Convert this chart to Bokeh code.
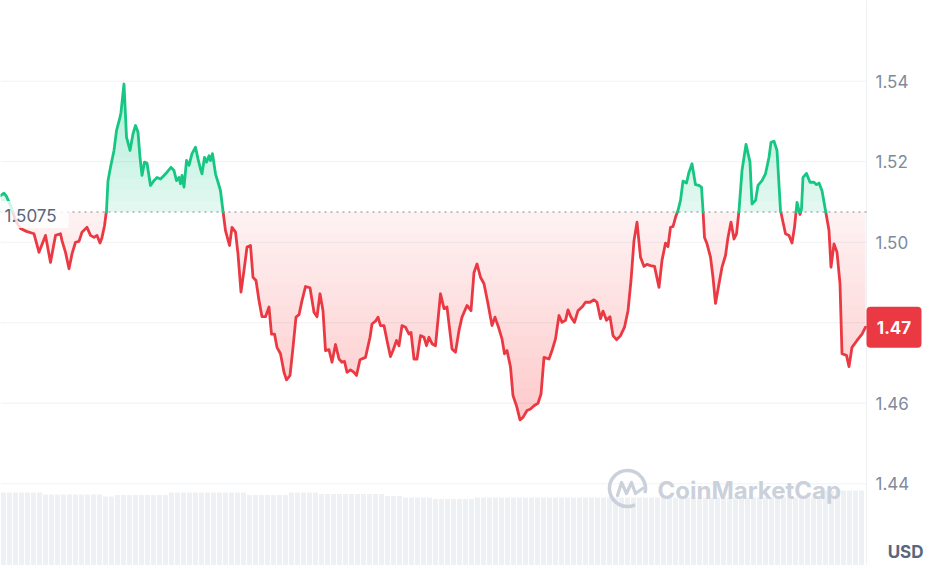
import numpy as np
from bokeh.plotting import figure
from bokeh.models import Range1d
from bokeh.core.properties import value
from bokeh.embed import file_html
from bokeh.resources import INLINE

# ---------------- data ----------------
minutes = [
    0, 7, 12, 20, 30, 40, 52, 67, 77, 90,
    100, 110, 120, 123, 130, 137, 143, 150, 157, 163,
    173, 180, 187, 193, 199, 203, 208, 212, 215, 220,
    227, 232, 239, 241, 247, 252, 259, 265, 270, 275,
    279, 283, 288, 293, 300, 307, 313, 320, 327, 333,
    341, 347, 352, 357, 360, 363, 367, 372, 377, 383,
    390, 395, 400, 403, 408, 412, 417, 420, 424, 430,
    437, 440, 445, 450, 458, 463, 470, 475, 481, 487,
    493, 500, 505, 511, 517, 523, 530, 537, 542, 548,
    553, 560, 567, 572, 579, 585, 591, 597, 603, 610,
    619, 627, 633, 639, 645, 650, 657, 663, 670, 677,
    683, 688, 693, 700, 707, 712, 719, 730, 739, 743,
    750, 755, 760, 767, 773, 780, 785, 792, 797, 803,
    810, 817, 821, 827, 833, 840, 847, 852, 857, 863,
    870, 880, 887, 893, 903, 910, 917, 923, 933, 941,
    947, 953, 960, 967, 975, 983, 989, 997, 1003, 1008,
    1013, 1020, 1025, 1032, 1039, 1045, 1053, 1060, 1067, 1075,
    1081, 1087, 1097, 1103, 1110, 1117, 1123, 1130, 1135, 1141,
    1148, 1155, 1163, 1170, 1179, 1187, 1193, 1200, 1205, 1212,
    1219, 1225, 1232, 1240, 1248, 1255, 1261, 1267, 1273, 1280,
    1287, 1293, 1300, 1308, 1312, 1317, 1323, 1330, 1335, 1340,
    1345, 1350, 1355, 1360, 1365, 1372, 1377, 1383, 1390, 1397,
    1402, 1405, 1408, 1413, 1420, 1425, 1430, 1437, 1443, 1450,
    1455, 1461, 1467, 1472, 1477, 1483, 1491, 1499, 1503, 1510,
    1515, 1523, 1530, 1537, 1541, 1547, 1553, 1560, 1570, 1577,
    1583, 1588, 1593, 1599, 1602, 1605, 1612, 1619, 1627, 1632,
    1637, 1643, 1650, 1657, 1661, 1667, 1673, 1679, 1683, 1692,
    1697, 1703, 1713, 1723, 1730,
]

prices = [
    1.5116, 1.5122, 1.5114, 1.5091, 1.5054, 1.5034, 1.5027, 1.5021, 1.4975, 1.5017,
    1.4950, 1.5017, 1.5021, 1.5004, 1.4975, 1.4934, 1.4971, 1.5000, 1.5002, 1.5025,
    1.5037, 1.5017, 1.5012, 1.5017, 1.4998, 1.5012, 1.5041, 1.5079, 1.5153, 1.5186,
    1.5228, 1.5277, 1.5310, 1.5323, 1.5393, 1.5261, 1.5228, 1.5269, 1.5290, 1.5273,
    1.5211, 1.5166, 1.5199, 1.5196, 1.5141, 1.5153, 1.5161, 1.5157, 1.5166, 1.5174,
    1.5186, 1.5178, 1.5153, 1.5161, 1.5145, 1.5166, 1.5137, 1.5203, 1.5191, 1.5220,
    1.5236, 1.5207, 1.5182, 1.5170, 1.5211, 1.5199, 1.5215, 1.5203, 1.5220, 1.5170,
    1.5141, 1.5128, 1.5077, 1.5029, 1.4992, 1.5037, 1.5025, 1.4971, 1.4876, 1.4930,
    1.4988, 1.4992, 1.4913, 1.4905, 1.4855, 1.4815, 1.4815, 1.4839, 1.4772, 1.4772,
    1.4739, 1.4723, 1.4677, 1.4658, 1.4669, 1.4739, 1.4814, 1.4820, 1.4855, 1.4890,
    1.4887, 1.4826, 1.4815, 1.4872, 1.4830, 1.4731, 1.4733, 1.4702, 1.4746, 1.4710,
    1.4702, 1.4704, 1.4677, 1.4683, 1.4677, 1.4669, 1.4708, 1.4714, 1.4764, 1.4797,
    1.4804, 1.4814, 1.4793, 1.4793, 1.4756, 1.4716, 1.4731, 1.4756, 1.4743, 1.4793,
    1.4789, 1.4772, 1.4776, 1.4710, 1.4710, 1.4768, 1.4764, 1.4743, 1.4764, 1.4748,
    1.4743, 1.4872, 1.4835, 1.4839, 1.4735, 1.4727, 1.4781, 1.4814, 1.4843, 1.4830,
    1.4925, 1.4946, 1.4913, 1.4897, 1.4847, 1.4793, 1.4814, 1.4785, 1.4760, 1.4723,
    1.4731, 1.4690, 1.4619, 1.4594, 1.4559, 1.4565, 1.4582, 1.4586, 1.4594, 1.4600,
    1.4623, 1.4714, 1.4710, 1.4731, 1.4760, 1.4818, 1.4801, 1.4806, 1.4832, 1.4814,
    1.4801, 1.4830, 1.4839, 1.4851, 1.4851, 1.4857, 1.4851, 1.4810, 1.4829, 1.4806,
    1.4815, 1.4768, 1.4758, 1.4768, 1.4789, 1.4830, 1.4905, 1.5004, 1.5050, 1.4963,
    1.4940, 1.4945, 1.4942, 1.4940, 1.4917, 1.4888, 1.4955, 1.4998, 1.4989, 1.5037,
    1.5039, 1.5062, 1.5079, 1.5104, 1.5152, 1.5147, 1.5174, 1.5195, 1.5143, 1.5141,
    1.5137, 1.5079, 1.5012, 1.4996, 1.4963, 1.4913, 1.4848, 1.4897, 1.4938, 1.4967,
    1.5012, 1.5050, 1.5008, 1.5021, 1.5079, 1.5178, 1.5243, 1.5199, 1.5095, 1.5104,
    1.5141, 1.5153, 1.5170, 1.5211, 1.5248, 1.5251, 1.5228, 1.5079, 1.5021, 1.5017,
    1.4998, 1.5037, 1.5099, 1.5069, 1.5083, 1.5161, 1.5171, 1.5149, 1.5149, 1.5143,
    1.5147, 1.5128, 1.5079, 1.5029, 1.4938, 1.4996, 1.4975, 1.4897, 1.4723, 1.4719,
    1.4691, 1.4739, 1.4756, 1.4772, 1.4789,
]

# volume (millions), one bar per 12 minutes
volumes = [
    7.8, 7.8, 7.8, 7.8, 7.8, 7.8, 7.8,
    7.6, 7.6, 7.6, 7.6, 7.6, 7.6, 7.6, 7.6, 7.6, 7.6,
    7.4, 7.4,
    7.55, 7.55, 7.55, 7.55, 7.55, 7.55, 7.55, 7.55, 7.55,
    7.8, 7.8, 7.8, 7.8, 7.8, 7.8, 7.8, 7.8, 7.8, 7.8, 7.8, 7.8, 7.8,
    7.55, 7.55, 7.55, 7.55, 7.55, 7.55, 7.55,
    7.8, 7.8, 7.8, 7.8, 7.8,
    7.65, 7.65, 7.65, 7.65, 7.65, 7.65, 7.65, 7.65, 7.65, 7.65, 7.65,
    7.45, 7.45, 7.45,
    7.3, 7.3, 7.3, 7.3, 7.3,
    7.15, 7.15, 7.15, 7.15, 7.15, 7.15, 7.15,
    7.3, 7.3, 7.3, 7.3, 7.3, 7.3, 7.3, 7.3, 7.3, 7.3,
    7.3, 7.3, 7.3, 7.3, 7.3, 7.3, 7.3, 7.3, 7.3, 7.3,
    7.3, 7.3, 7.3, 7.3, 7.3, 7.3, 7.3, 7.3, 7.3, 7.3,
    7.3, 7.3, 7.3, 7.3, 7.3, 7.3, 7.3, 7.3, 7.3, 7.3,
    7.3, 7.3, 7.3, 7.3, 7.3, 7.3, 7.3, 7.3, 7.3, 7.3,
    7.3, 7.3, 7.3, 7.3, 7.3, 7.3, 7.3, 7.3,
    8.0, 8.0, 8.0, 8.0, 8.0, 8.0, 8.0,
]
volume_step = 12

base_price = 1.5075
base_label = "1.5075"
last_label = "1.47"
tick_values = [1.54, 1.52, 1.50, 1.46, 1.44]
tick_labels = ["1.54", "1.52", "1.50", "1.46", "1.44"]
grid_values = [1.44, 1.46, 1.48, 1.50, 1.52, 1.54]
currency = "USD"
watermark = "CoinMarketCap"

assert len(minutes) == len(prices)

# ---------------- styling ----------------
GREEN = "#16C784"
RED = "#EA3943"
GRID = "#EFF2F5"
TICK = "#808A9D"
DARK = "#58667E"
WM = "#CBD1DB"
FONT = "Inter"

W, H = 924, 565
MPP = 2.0          # minutes per pixel
PPU = 4026.0       # pixels per USD
X0 = 0.0
XEND = 1732.0      # right edge of the plotting area
Y_TOP = 1.560045
Y_BOT = Y_TOP - H / PPU

p = figure(width=W, height=H, output_backend="svg", toolbar_location=None,
           x_range=Range1d(X0, X0 + W * MPP), y_range=Range1d(Y_BOT, Y_TOP),
           x_axis_location=None, y_axis_location=None, min_border=0,
           background_fill_color="white", border_fill_color="white")
p.outline_line_color = None
p.grid.visible = False
p.extra_y_ranges = {"vol": Range1d(0.5, 0.5 + H / 10.0)}

# volume bars
vx = [volume_step / 2 + volume_step * i for i in range(len(volumes))]
p.vbar(x=vx, width=volume_step * 0.82, bottom=0, top=volumes, y_range_name="vol",
       fill_color="#EEF1F4", line_color=None)

# grid lines
p.segment(x0=[X0] * len(grid_values), x1=[XEND] * len(grid_values),
          y0=grid_values, y1=grid_values, line_color=GRID, line_width=1)
p.segment(x0=[XEND], x1=[XEND], y0=[Y_BOT], y1=[Y_TOP], line_color=GRID, line_width=1)

t = np.array(minutes, dtype=float)
pr = np.array(prices, dtype=float)


def with_crossings(x, y, levels):
    xs, ys = [x[0]], [y[0]]
    for i in range(len(x) - 1):
        x0, y0, x1, y1 = x[i], y[i], x[i + 1], y[i + 1]
        cr = []
        for L in levels:
            if (y0 - L) * (y1 - L) < 0:
                f = (L - y0) / (y1 - y0)
                cr.append((f, L))
        cr.sort()
        for f, L in cr:
            xs.append(x0 + f * (x1 - x0))
            ys.append(L)
        xs.append(x1)
        ys.append(y1)
    return np.array(xs), np.array(ys)


red_levels = list(np.linspace(base_price, 1.4560, 21))
green_levels = list(np.linspace(base_price, 1.5400, 13))
XF, YF = with_crossings(t, pr, red_levels + green_levels[1:])

# red gradient (layers stacked below baseline)
for k, L in enumerate(red_levels[:-1]):
    a = 0.07 if k == 0 else 0.0135
    p.varea(x=XF, y1=np.minimum(YF, L), y2=np.full_like(YF, L),
            fill_color=RED, fill_alpha=a)
# green gradient (layers stacked above baseline)
for k, L in enumerate(green_levels[:-1]):
    a = 0.12 if k == 0 else 0.018
    p.varea(x=XF, y1=np.full_like(YF, L), y2=np.maximum(YF, L),
            fill_color=GREEN, fill_alpha=a)

# dotted baseline
p.segment(x0=[X0], x1=[XEND], y0=[base_price], y1=[base_price],
          line_color="#7E8899", line_dash="2 4", line_width=1.1)

# price line, coloured by side of the baseline
XC, YC = with_crossings(t, pr, [base_price])
g = np.where(YC >= base_price - 1e-9, YC, np.nan)
r = np.where(YC <= base_price + 1e-9, YC, np.nan)
p.line(XC, r, line_color=RED, line_width=2.8, line_join="round", line_cap="round")
p.line(XC, g, line_color=GREEN, line_width=2.8, line_join="round", line_cap="round")

# baseline label
p.quad(left=[X0], right=[136], bottom=[base_price - 16 / PPU], top=[base_price + 11 / PPU],
       fill_color="white", fill_alpha=0.8, line_color=None)
p.text(x=[8], y=[base_price], text=[base_label], text_align="left",
       text_baseline="middle", y_offset=3, text_font=value(FONT),
       text_font_size="17px", text_color=DARK)

# right-hand price labels
p.text(x=[1750] * len(tick_values), y=tick_values, text=tick_labels,
       text_align="left", text_baseline="middle", text_font=value(FONT),
       text_font_size="17px", text_color=TICK)

# watermark
wm_x, wm_y = 1254.0, 1.43883
p.arc(x=[wm_x], y=[wm_y], radius=18, radius_units="screen",
      start_angle=np.radians(-15), end_angle=np.radians(295), direction="anticlock",
      line_color=WM, line_width=3.5)
m_dx = [-10, -6, -1, 4, 8, 15]
m_dy = [7, -6, 5, -6, 5, 0]
p.line(x=[wm_x + MPP * d for d in m_dx], y=[wm_y - d / PPU for d in m_dy],
       line_color=WM, line_width=3.2, line_join="round", line_cap="round")
p.text(x=[1314], y=[1.43833], text=[watermark], text_align="left",
       text_baseline="middle", text_font=value(FONT), text_font_size="24px",
       text_font_style="bold", text_color=WM)

# current price badge
last = prices[-1]
p.quad(left=[XEND], right=[XEND + 55 * MPP], bottom=[last - 20.5 / PPU],
       top=[last + 20.5 / PPU], fill_color=RED, line_color=None, border_radius=4)
p.text(x=[XEND + 27.5 * MPP], y=[last], text=[last_label], text_align="center",
       text_baseline="middle", text_font=value(FONT), text_font_size="17px",
       text_font_style="bold", text_color="white")

# currency
p.text(x=[1846], y=[1.42294], text=[currency], text_align="right",
       text_baseline="middle", text_font=value(FONT), text_font_size="17px",
       text_font_style="bold", text_color=DARK)

open("out.html", "w").write(file_html(p, INLINE))
